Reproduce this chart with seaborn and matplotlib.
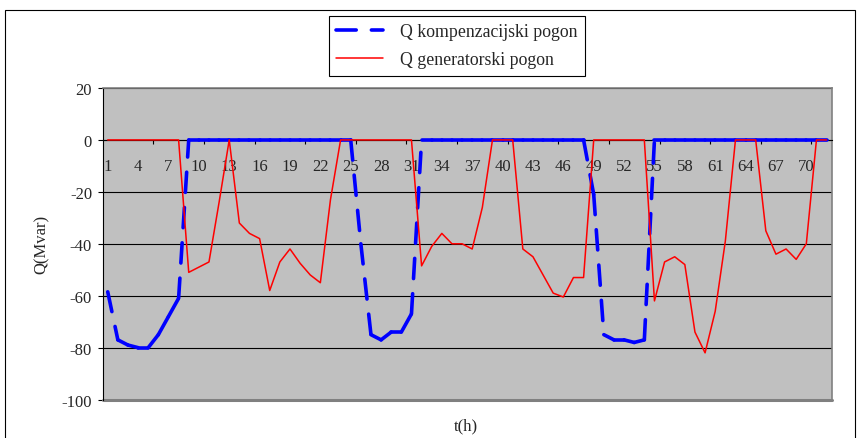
import numpy as np
import pandas as pd
import matplotlib
matplotlib.use("Agg")
import matplotlib.pyplot as plt
import seaborn as sns
from matplotlib.lines import Line2D
from matplotlib.patches import Rectangle

# Hourly reactive power Q (Mvar), 72 hours
hours = list(range(1, 73))

q_komp = [
    -58.5, -77, -79, -80, -80, -75, -68, -61,
    0, 0, 0, 0, 0, 0, 0, 0, 0, 0, 0, 0, 0, 0, 0, 0, 0,
    -40, -75, -77, -74, -74, -67,
    0, 0, 0, 0, 0, 0, 0, 0, 0, 0, 0, 0, 0, 0, 0, 0, 0,
    -21, -75, -77, -77, -78, -77,
    0, 0, 0, 0, 0, 0, 0, 0, 0, 0, 0, 0, 0, 0, 0, 0, 0, 0,
]

q_gen = [
    0, 0, 0, 0, 0, 0, 0, 0,
    -51, -49, -47, -24, 0, -32, -36, -38, -58, -47, -42, -47.5, -52, -55, -23,
    0, 0, 0, 0, 0, 0, 0, 0,
    -48.5, -41, -36, -40, -40, -42, -26,
    0, 0, 0,
    -42, -45, -52, -59, -60.5, -53, -53,
    0, 0, 0, 0, 0, 0,
    -62, -47, -45, -48, -74, -82, -66, -39,
    0, 0, 0,
    -35, -44, -42, -46, -40,
    0, 0,
]

x_labels = [1, 4, 7, 10, 13, 16, 19, 22, 25, 28, 31, 34, 37, 40, 43, 46,
            49, 52, 55, 58, 61, 64, 67, 70]
y_ticks = [20, 0, -20, -40, -60, -80, -100]
series_names = ["Q kompenzacijski pogon", "Q generatorski pogon"]

df = pd.DataFrame({"t": hours, "komp": q_komp, "gen": q_gen})

sns.set_style("white")
plt.rcParams["font.family"] = ["Liberation Serif", "DejaVu Serif"]
plt.rcParams["font.size"] = 12
plt.rcParams["axes.unicode_minus"] = False

fig = plt.figure(figsize=(8.57, 4.39), dpi=100)
ax = fig.add_axes([0.1198, 0.0875, 0.8506, 0.7098])
ax.set_facecolor("#C0C0C0")

blue_style = dict(color="#0000FF", lw=2.6, linestyle=(0, (5.6, 4.2)),
                  dash_capstyle="round", solid_capstyle="round")

# dash pattern restarts on every segment, like the spreadsheet chart
for i in range(len(df) - 1):
    seg = df.iloc[i:i + 2]
    ax.plot(seg["t"], seg["komp"], zorder=3, **blue_style)

sns.lineplot(data=df, x="t", y="gen", color="#FF0000", lw=1.1, ax=ax, zorder=4)

ax.set_xlim(0.5, 72.5)
ax.set_ylim(-100, 20)
ax.set_yticks(y_ticks)
ax.set_xticks(x_labels)
ax.set_xticks(np.arange(5.5, 71, 5), minor=True)

ax.spines["bottom"].set_position(("data", 0))
for s in ["left", "bottom"]:
    ax.spines[s].set_color("black")
    ax.spines[s].set_linewidth(0.8)
for s in ["top", "right"]:
    ax.spines[s].set_color("#808080")
    ax.spines[s].set_linewidth(1.2)

ax.tick_params(axis="x", which="major", bottom=True, length=0, pad=13, labelsize=12)
ax.tick_params(axis="x", which="minor", bottom=True, length=3, width=0.8,
               direction="out", color="black")
ax.tick_params(axis="y", left=True, length=3.6, width=0.8, direction="out",
               color="black", pad=4, labelsize=12)

ax.grid(axis="y", color="black", lw=0.8)
ax.axhline(-100, color="#808080", lw=2.2, zorder=2.5, clip_on=False)

ax.set_xlabel("t(h)", fontsize=12)
ax.set_ylabel("Q(Mvar)", fontsize=12)
ax.xaxis.set_label_coords(0.498, -0.057)
ax.yaxis.set_label_coords(-0.073, 0.5)

handles = [
    Line2D([], [], **blue_style),
    Line2D([], [], color="#FF0000", lw=1.1),
]
leg = fig.legend(handles, series_names, loc="upper left",
                 bbox_to_anchor=(329 / 857, 1 - 17 / 439),
                 frameon=True, fancybox=False, edgecolor="black", framealpha=1,
                 handlelength=2.6, handletextpad=1.0, labelspacing=0.6,
                 borderpad=0.42, borderaxespad=0, fontsize=12.8)
leg.get_frame().set_linewidth(0.8)

# outer chart frame
fig.patches.append(Rectangle((5 / 857, -0.1), 850 / 857, 1.1 - 11 / 439,
                             transform=fig.transFigure, fill=False,
                             edgecolor="black", lw=0.8))

fig.savefig("out.png", dpi=100)
